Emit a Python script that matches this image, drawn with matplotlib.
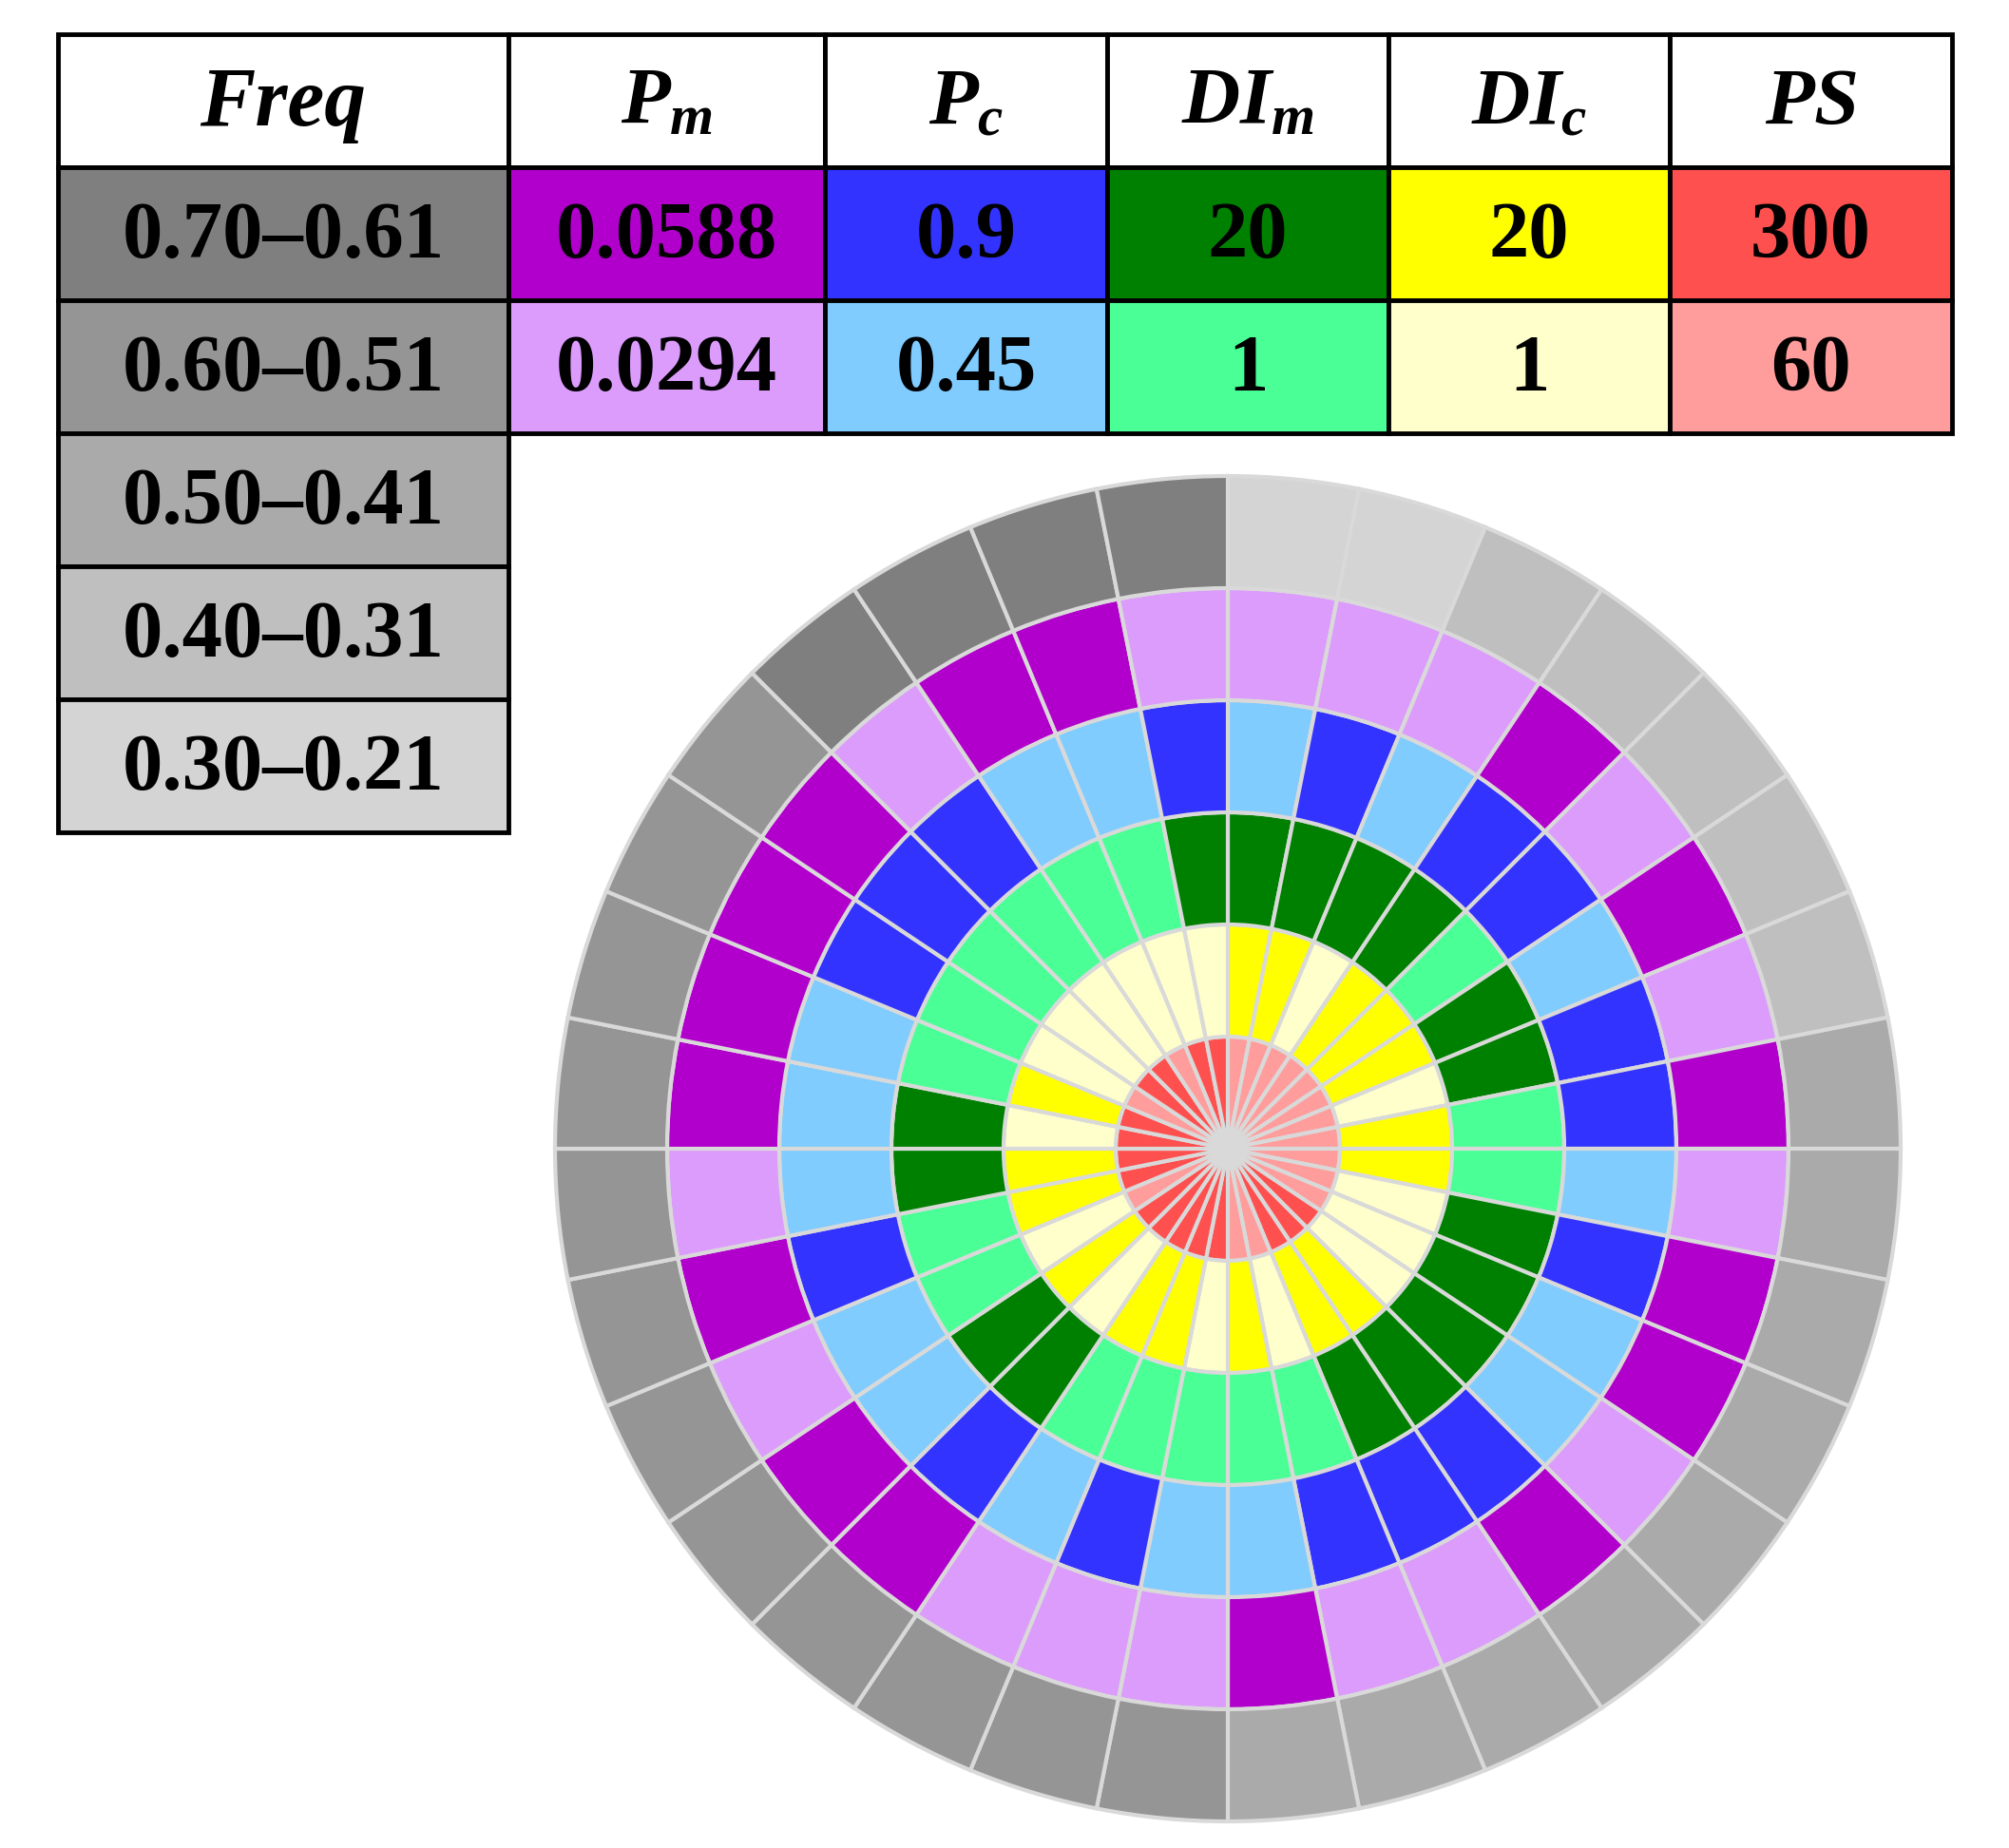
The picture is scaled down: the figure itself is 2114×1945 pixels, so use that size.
import numpy as np
import matplotlib
matplotlib.use('Agg')
import matplotlib.pyplot as plt
from matplotlib.patches import Rectangle

plt.rcParams['font.family'] = ['Liberation Serif', 'DejaVu Serif']
plt.rcParams['mathtext.fontset'] = 'custom'
plt.rcParams['mathtext.it'] = 'Liberation Serif:italic:bold'
plt.rcParams['mathtext.rm'] = 'Liberation Serif:bold'

# legend table
freq_bands = ['0.70–0.61', '0.60–0.51', '0.50–0.41', '0.40–0.31', '0.30–0.21']
freq_colors = ['#7f7f7f', '#959595', '#aaaaaa', '#bfbfbf', '#d4d4d4']

param_headers = ['$P_m$', '$P_c$', '$DI_m$', '$DI_c$', '$PS$']
high_values = ['0.0588', '0.9', '20', '20', '300']
low_values = ['0.0294', '0.45', '1', '1', '60']
high_colors = ['#b200cc', '#3333ff', '#008000', '#ffff00', '#ff5050']
low_colors = ['#dc9cfc', '#80ccff', '#4aff96', '#ffffcc', '#ff9c9c']

# 32 sectors, clockwise from 12 o'clock (1 = high value, 0 = low value)
sector_freq = [4, 4, 3, 3, 3, 3, 3, 2,
               2, 2, 2, 2, 2, 2, 2, 2,
               1, 1, 1, 1, 1, 1, 1, 1,
               1, 1, 1, 1, 0, 0, 0, 0]
pm_level = [0, 0, 0, 1, 0, 1, 0, 1,
            0, 1, 1, 0, 1, 0, 0, 1,
            0, 0, 0, 1, 1, 0, 1, 0,
            1, 1, 1, 1, 0, 1, 1, 0]
pc_level = [0, 1, 0, 1, 1, 0, 1, 1,
            0, 1, 0, 0, 1, 1, 1, 0,
            0, 1, 0, 1, 0, 0, 1, 0,
            0, 0, 1, 1, 1, 0, 0, 1]
dim_level = [1, 1, 1, 1, 0, 1, 1, 0,
             0, 1, 1, 1, 1, 1, 0, 0,
             0, 0, 0, 1, 1, 0, 0, 1,
             1, 0, 0, 0, 0, 0, 0, 1]
dic_level = [1, 1, 0, 1, 1, 1, 0, 1,
             1, 0, 0, 0, 1, 1, 0, 1,
             0, 1, 1, 0, 1, 0, 1, 1,
             0, 1, 0, 0, 0, 0, 0, 0]
ps_level = [0, 0, 0, 0, 0, 0, 0, 0,
            0, 0, 0, 1, 1, 1, 0, 0,
            1, 1, 1, 1, 1, 0, 1, 1,
            1, 1, 0, 1, 1, 0, 1, 1]

W, H = 2114, 1945
fig = plt.figure(figsize=(W / 100, H / 100), dpi=100)

# ---- table ----
ax_t = fig.add_axes([0, 0, 1, 1])
ax_t.set_xlim(0, W)
ax_t.set_ylim(H, 0)
ax_t.axis('off')

col_x = [61, 535, 868, 1165, 1461, 1757, 2054]
row_y = [36, 176, 316, 456, 596, 736, 876]
fs = 61


def cell(x0, x1, y0, y1, color, text):
    ax_t.add_patch(Rectangle((x0, y0), x1 - x0, y1 - y0, facecolor=color,
                             edgecolor='black', linewidth=3.5))
    ax_t.text((x0 + x1) / 2, (y0 + y1) / 2 + 4, text, ha='center', va='center',
              fontsize=fs, fontweight='bold', color='black')


# header
ax_t.add_patch(Rectangle((col_x[0], row_y[0]), col_x[1] - col_x[0], row_y[1] - row_y[0],
                         facecolor='white', edgecolor='black', linewidth=3.5))
ax_t.text((col_x[0] + col_x[1]) / 2, (row_y[0] + row_y[1]) / 2 + 4, 'Freq',
          ha='center', va='center', fontsize=fs + 2, fontweight='bold', fontstyle='italic')
for j, hdr in enumerate(param_headers):
    cell(col_x[j + 1], col_x[j + 2], row_y[0], row_y[1], 'white', hdr)

# frequency column
for i, (band, c) in enumerate(zip(freq_bands, freq_colors)):
    cell(col_x[0], col_x[1], row_y[i + 1], row_y[i + 2], c, band)

# parameter levels
for j in range(len(param_headers)):
    cell(col_x[j + 1], col_x[j + 2], row_y[1], row_y[2], high_colors[j], high_values[j])
    cell(col_x[j + 1], col_x[j + 2], row_y[2], row_y[3], low_colors[j], low_values[j])

# ---- polar chart ----
cx, cy, R = 1292, 1209, 708
ax = fig.add_axes([(cx - R) / W, 1 - (cy + R) / H, 2 * R / W, 2 * R / H],
                  projection='polar')
ax.set_theta_zero_location('N')
ax.set_theta_direction(-1)
ax.set_ylim(0, R)
ax.axis('off')

n = len(sector_freq)
step = 2 * np.pi / n
theta = np.arange(n) * step + step / 2
ring_w = R / 6

rings = [(ps_level, 4), (dic_level, 3), (dim_level, 2), (pc_level, 1), (pm_level, 0)]
for k, (levels, p) in enumerate(rings):
    colors = [high_colors[p] if lv else low_colors[p] for lv in levels]
    ax.bar(theta, ring_w, width=step, bottom=k * ring_w, color=colors,
           edgecolor='#d9d9d9', linewidth=3, clip_on=False)

colors = [freq_colors[f] for f in sector_freq]
ax.bar(theta, ring_w, width=step, bottom=5 * ring_w, color=colors,
       edgecolor='#d9d9d9', linewidth=3, clip_on=False)

ax.bar(0, 18, width=2 * np.pi, bottom=0, color='#d9d9d9', edgecolor='none')

fig.savefig('out.png', dpi=100, facecolor='white')
